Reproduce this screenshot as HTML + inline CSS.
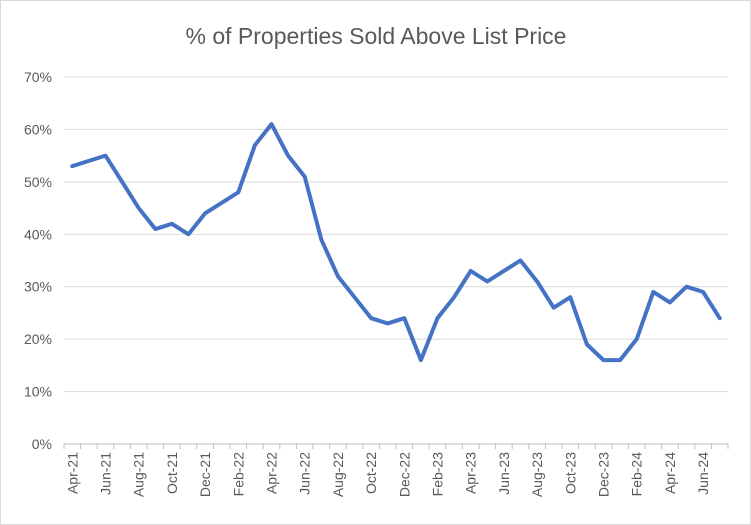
<!DOCTYPE html>
<html><head><meta charset="utf-8"><style>
body{margin:0;background:#fff;}
svg{display:block;font-family:"Liberation Sans",sans-serif;}
</style></head><body>
<svg id="chart" width="751" height="525">
<rect x="0.5" y="0.5" width="750" height="524" fill="#fff" stroke="#d9d9d9"/>
<text x="376" y="44" text-anchor="middle" font-size="23" fill="#595959">% of Properties Sold Above List Price</text>
<g id="grid"></g><g id="yt"></g><g id="xt"></g><g id="ln"></g>
</svg>
<script>
const categories=["Apr-21","May-21","Jun-21","Jul-21","Aug-21","Sep-21","Oct-21","Nov-21","Dec-21","Jan-22","Feb-22","Mar-22","Apr-22","May-22","Jun-22","Jul-22","Aug-22","Sep-22","Oct-22","Nov-22","Dec-22","Jan-23","Feb-23","Mar-23","Apr-23","May-23","Jun-23","Jul-23","Aug-23","Sep-23","Oct-23","Nov-23","Dec-23","Jan-24","Feb-24","Mar-24","Apr-24","May-24","Jun-24","Jul-24"];
const values=[53,54,55,50,45,41,42,40,44,46,48,57,61,55,51,39,32,28,24,23,24,16,24,28,33,31,33,35,31,26,28,19,16,16,20,29,27,30,29,24];
const yTicks=[0,10,20,30,40,50,60,70];
const NS="http://www.w3.org/2000/svg";
const x0=64,step=16.6,y0=444,yPer=5.243;
const X=i=>x0+step*(i+0.5);
const Y=v=>y0-v*yPer;
function mk(t,a,p){const e=document.createElementNS(NS,t);for(const k in a)e.setAttribute(k,a[k]);document.getElementById(p).appendChild(e);return e;}
yTicks.forEach(v=>{
 const l=mk('line',{x1:x0,x2:x0+step*categories.length,y1:Y(v),y2:Y(v),stroke:v===0?'#bfbfbf':'#d9d9d9','stroke-width':1},'grid');
 
 
 const t=mk('text',{x:52,y:Y(v)+5,'text-anchor':'end','font-size':14,fill:'#595959'},'yt');
 t.textContent=v+'%';
 
 
});
categories.forEach((c,i)=>{
 const tk=mk('line',{x1:x0+step*i,x2:x0+step*i,y1:y0,y2:y0+5,stroke:'#bfbfbf'},'grid');
 
 
 if(i%2===0){
  const t=mk('text',{x:0,y:0,'text-anchor':'end','font-size':14,fill:'#595959',transform:`translate(${X(i)+5},${y0+8}) rotate(-90)`},'xt');
  t.textContent=c;
  
  
 }
});
const tk=mk('line',{x1:x0+step*categories.length,x2:x0+step*categories.length,y1:y0,y2:y0+5,stroke:'#bfbfbf'},'grid');


const p=mk('polyline',{points:values.map((v,i)=>X(i)+','+Y(v)).join(' '),fill:'none',stroke:'#4472c4','stroke-width':4,'stroke-linejoin':'round','stroke-linecap':'round'},'ln');


</script>
</body></html>
